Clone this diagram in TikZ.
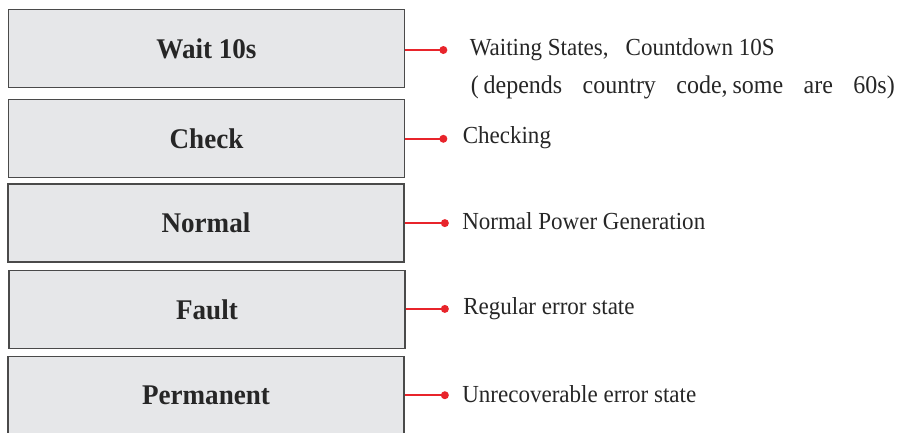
\documentclass[tikz,border=0pt]{standalone}
\usepackage{fontspec}
\setmainfont{Liberation Serif}
\usetikzlibrary{positioning}

\definecolor{boxgray}{HTML}{E6E7E9}
\definecolor{edgegray}{HTML}{4A4A4A}
\definecolor{dotred}{HTML}{E8242B}

\begin{document}
\begin{tikzpicture}[
  x=1pt, y=-1pt,
  statebox/.style={draw=edgegray, line width=1.3pt, fill=boxgray, minimum width=396pt, minimum height=78pt,
    inner sep=0pt, font=\fontsize{28.5}{30}\selectfont\bfseries\addfontfeature{FakeStretch=0.95}, text=black!85},
  dot/.style={circle, fill=dotred, inner sep=0pt, minimum size=8pt},
  note/.style={anchor=west, inner sep=0pt, font=\fontsize{24.5}{27}\selectfont\addfontfeature{FakeStretch=0.94}, text=black!85},
  lead/.style={draw=dotred, line width=1.8pt}
]
\useasboundingbox (0,0) rectangle (897,432);
% state boxes
\node[statebox] (wait) at (206.5,48.5) {Wait 10s};
\node[statebox, below=11pt of wait] (check) {Check};
\node[statebox, below=5pt of check, xshift=-0.5pt] (normal) {Normal};
\node[statebox, below=7pt of normal, xshift=1pt] (fault) {Fault};
\node[statebox, below=7pt of fault, xshift=-1pt] (perm) {Permanent};
% red markers
\node[dot, right=34pt of wait, yshift=-1.5pt] (waitdot) {};
\node[dot, right=34pt of check] (checkdot) {};
\node[dot, right=36pt of normal] (normaldot) {};
\node[dot, right=35pt of fault, yshift=0.5pt] (faultdot) {};
\node[dot, right=36pt of perm, yshift=0.5pt] (permdot) {};
\foreach \s in {wait,check,normal,fault,perm}
  \draw[lead] (\s.east |- \s dot) -- (\s dot.center);
% descriptions
\node[note, right=22pt of waitdot] (waitnote)
  {Waiting States,\hspace{17pt}Countdown 10S};
\node[note, font=\fontsize{25.5}{28}\selectfont\addfontfeature{FakeStretch=0.94}] (waitmore)
  at ([xshift=1pt, yshift=-37pt]waitnote.west)
  {\makebox[424pt][s]{(\kern5pt depends\hspace{14pt plus 1fil}country\hspace{14pt plus 1fil}code,\hspace{5pt}some\hspace{14pt plus 1fil}are\hspace{14pt plus 1fil}60s)}};
\node[note, right=15pt of checkdot, yshift=1.5pt] (checknote) {Checking};
\node[note, right=13pt of normaldot, yshift=1.5pt] (normalnote) {Normal Power Generation};
\node[note, right=14pt of faultdot] (faultnote) {Regular error state};
\node[note, right=13pt of permdot, yshift=1pt] (permnote) {Unrecoverable error state};
\end{tikzpicture}
\end{document}
